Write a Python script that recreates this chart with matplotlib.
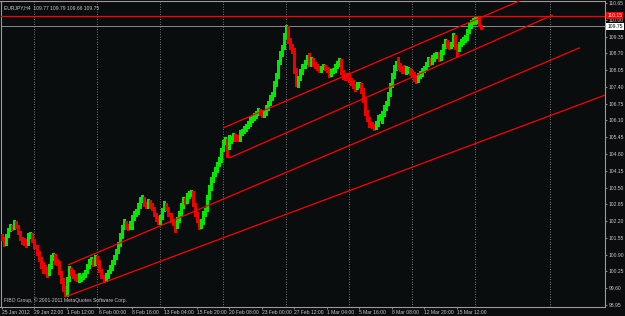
import matplotlib
matplotlib.use("Agg")
import matplotlib.pyplot as plt
import matplotlib.transforms as mtransforms

plt.rcParams["font.family"] = ["Liberation Sans", "DejaVu Sans"]

# ---- Data: EURJPY H4 candles ----
first_open = 101.62
closes = [
    101.55, 101.31, 101.62, 101.85, 102.01, 101.93, 102.16, 102.01, 101.78, 101.55,
    101.39, 101.35, 101.31, 101.62, 101.70, 101.47, 101.23, 101.00, 100.77, 100.54,
    100.31, 100.25, 100.15, 100.46, 100.77, 100.85, 100.70, 100.62, 100.23, 99.92,
    99.61, 99.38, 99.92, 100.31, 100.23, 100.07, 100.00, 99.95, 100.00, 100.07,
    100.15, 100.23, 100.46, 100.62, 100.69, 100.54, 100.77, 100.62, 100.31, 100.07,
    99.92, 100.07, 100.23, 100.38, 100.62, 100.77, 101.00, 101.31, 101.62, 101.93,
    102.16, 102.01, 101.93, 102.16, 102.32, 102.47, 102.55, 102.79, 103.02, 103.10,
    102.86, 102.79, 102.94, 102.86, 102.71, 102.47, 102.32, 102.16, 102.32, 102.63,
    102.86, 102.71, 102.47, 102.24, 102.16, 102.01, 102.24, 102.47, 102.79, 103.02,
    102.94, 103.17, 103.25, 103.33, 102.86, 102.47, 102.24, 102.01, 102.16, 102.47,
    102.63, 103.10, 103.48, 103.79, 104.02, 104.18, 104.41, 104.57, 104.95, 105.26,
    105.34, 105.03, 105.42, 105.46, 105.50, 105.42, 105.38, 105.57, 105.65, 105.81,
    105.88, 105.96, 106.12, 106.19, 106.27, 106.35, 106.50, 106.43, 106.35, 106.43,
    106.58, 106.74, 106.97, 107.12, 107.51, 107.82, 108.36, 108.67, 108.91, 109.37,
    109.68, 109.22, 108.98, 108.83, 108.05, 107.59, 107.74, 107.98, 108.21, 108.36,
    108.52, 108.29, 108.44, 108.29, 108.21, 108.13, 108.05, 108.13, 108.21, 108.13,
    108.05, 107.90, 107.98, 108.05, 108.21, 108.29, 108.44, 107.98, 107.82, 107.74,
    107.70, 107.67, 107.59, 107.43, 107.36, 107.45, 107.51, 107.28, 106.89, 106.43,
    106.19, 105.96, 105.88, 105.80, 105.96, 106.19, 106.27, 106.35, 106.58, 106.74,
    107.12, 107.43, 107.82, 108.13, 108.29, 108.21, 108.13, 108.05, 108.00, 108.05,
    108.10, 107.98, 107.90, 107.74, 107.67, 107.82, 107.90, 108.05, 108.13, 108.29,
    108.44, 108.36, 108.52, 108.60, 108.67, 108.52, 108.75, 108.98, 109.14, 109.06,
    108.98, 109.06, 109.37, 108.98, 108.83, 109.06, 109.14, 109.22, 109.29, 109.53,
    109.76, 109.91, 109.99, 110.03, 110.07, 109.77, 109.75,
]
highs = [
    101.70, 101.58, 101.70, 101.92, 102.10, 102.06, 102.25, 102.20, 102.05, 101.82,
    101.60, 101.55, 101.50, 101.75, 101.78, 101.75, 101.52, 101.28, 101.05, 100.82,
    100.60, 100.48, 100.42, 100.55, 100.90, 100.95, 100.92, 100.75, 100.66, 100.28,
    99.98, 99.68, 100.02, 100.45, 100.38, 100.30, 100.15, 100.15, 100.18, 100.10,
    100.18, 100.32, 100.55, 100.72, 100.80, 100.75, 100.88, 100.85, 100.68, 100.36,
    100.12, 100.18, 100.32, 100.48, 100.70, 100.88, 101.10, 101.40, 101.72, 102.05,
    102.30, 102.22, 102.10, 102.22, 102.45, 102.58, 102.65, 102.90, 103.12, 103.20,
    103.15, 102.95, 103.06, 103.00, 102.92, 102.76, 102.52, 102.38, 102.42, 102.72,
    102.98, 102.90, 102.76, 102.52, 102.30, 102.22, 102.35, 102.58, 102.90, 103.12,
    103.10, 103.28, 103.35, 103.42, 103.38, 102.92, 102.55, 102.30, 102.28, 102.58,
    102.72, 103.20, 103.58, 103.90, 104.12, 104.28, 104.50, 104.68, 105.05, 105.36,
    105.44, 105.38, 105.52, 105.50, 105.60, 105.58, 105.52, 105.72, 105.75, 105.88,
    105.98, 106.06, 106.22, 106.30, 106.38, 106.45, 106.60, 106.55, 106.52, 106.50,
    106.68, 106.84, 107.08, 107.22, 107.62, 107.92, 108.46, 108.78, 109.02, 109.48,
    109.80, 109.76, 109.28, 109.05, 108.90, 108.12, 107.82, 108.08, 108.30, 108.46,
    108.65, 108.70, 108.55, 108.50, 108.35, 108.28, 108.20, 108.22, 108.28, 108.26,
    108.18, 108.12, 108.08, 108.14, 108.30, 108.40, 108.52, 108.48, 108.05, 107.90,
    107.92, 107.88, 107.75, 107.66, 107.50, 107.60, 107.58, 107.55, 107.35, 106.95,
    106.50, 106.25, 106.05, 105.95, 106.06, 106.30, 106.35, 106.45, 106.68, 106.84,
    107.22, 107.54, 107.92, 108.24, 108.40, 108.55, 108.32, 108.20, 108.24, 108.20,
    108.16, 108.12, 108.06, 107.96, 107.84, 107.92, 108.00, 108.14, 108.22, 108.38,
    108.54, 108.52, 108.62, 108.70, 108.76, 108.74, 108.84, 109.08, 109.24, 109.22,
    109.14, 109.15, 109.47, 109.40, 109.05, 109.15, 109.24, 109.32, 109.40, 109.64,
    109.86, 110.00, 110.08, 110.11, 110.11, 110.10, 109.79,
]
lows = [
    101.45, 101.22, 101.28, 101.58, 101.80, 101.85, 101.90, 101.95, 101.70, 101.45,
    101.30, 101.28, 101.20, 101.28, 101.55, 101.40, 101.15, 100.90, 100.65, 100.40,
    100.20, 100.18, 100.05, 100.10, 100.40, 100.70, 100.55, 100.50, 100.15, 99.80,
    99.50, 99.28, 99.30, 99.88, 100.12, 99.98, 99.90, 99.88, 99.85, 99.86,
    99.95, 100.02, 100.18, 100.40, 100.55, 100.45, 100.50, 100.52, 100.22, 99.98,
    99.84, 99.88, 100.00, 100.18, 100.32, 100.55, 100.72, 100.95, 101.25, 101.55,
    101.88, 101.90, 101.85, 101.88, 101.88, 102.25, 102.40, 102.48, 102.72, 102.95,
    102.78, 102.72, 102.70, 102.72, 102.62, 102.38, 102.22, 102.08, 102.10, 102.28,
    102.58, 102.62, 102.40, 102.15, 102.05, 101.78, 101.95, 102.18, 102.42, 102.72,
    102.85, 102.90, 103.10, 103.18, 102.78, 102.38, 102.15, 101.90, 101.95, 102.10,
    102.40, 102.58, 103.05, 103.42, 103.72, 103.95, 104.12, 104.35, 104.50, 104.90,
    105.18, 104.68, 104.98, 105.22, 105.30, 105.32, 105.30, 105.32, 105.52, 105.62,
    105.68, 105.80, 105.90, 106.05, 106.12, 106.20, 106.30, 106.30, 106.22, 106.25,
    106.30, 106.50, 106.68, 106.90, 107.05, 107.45, 107.75, 108.30, 108.60, 108.85,
    109.30, 109.10, 108.88, 108.70, 107.95, 107.45, 107.40, 107.65, 107.90, 108.12,
    108.28, 108.20, 108.22, 108.20, 108.12, 108.05, 107.98, 107.98, 108.08, 108.05,
    107.98, 107.80, 107.82, 107.92, 107.98, 108.12, 108.22, 107.88, 107.72, 107.65,
    107.66, 107.58, 107.48, 107.35, 107.25, 107.30, 107.40, 107.18, 106.80, 106.32,
    106.08, 105.85, 105.80, 105.73, 105.76, 105.88, 106.10, 106.00, 106.28, 106.50,
    106.68, 107.05, 107.38, 107.76, 108.05, 108.10, 108.02, 107.95, 107.95, 107.88,
    107.92, 107.86, 107.78, 107.64, 107.56, 107.60, 107.74, 107.84, 107.98, 108.06,
    108.22, 108.26, 108.30, 108.42, 108.50, 108.40, 108.46, 108.68, 108.90, 108.96,
    108.88, 108.92, 109.00, 108.86, 108.60, 108.78, 108.98, 109.05, 109.12, 109.22,
    109.48, 109.68, 109.82, 109.82, 109.86, 109.74, 109.66,
]

# time labels every 16 bars
time_labels = ["25 Jan 2012", "29 Jan 22:00", "1 Feb 12:00", "6 Feb 00:00", "8 Feb 16:00",
               "13 Feb 04:00", "15 Feb 20:00", "20 Feb 08:00", "23 Feb 00:00", "27 Feb 12:00",
               "1 Mar 04:00", "5 Mar 16:00", "8 Mar 08:00", "12 Mar 20:00", "15 Mar 12:00"]
price_ticks = [110.65, 110.00, 109.35, 108.70, 108.05, 107.40, 106.75, 106.10, 105.45, 104.80,
               104.15, 103.50, 102.85, 102.20, 101.55, 100.90, 100.25, 99.60, 98.95]
grid_bars = [16, 47, 78, 109, 140, 171, 202, 233, 270]

# trend lines (bar1, price1, bar2, price2)
trend_lines = [
    (108.9, 105.81, 297.0, 112.15),
    (111.8, 104.64, 271.4, 110.19),
    (32.5, 100.50, 284.7, 108.92),
    (31.0, 99.26, 297.0, 107.08),
]
hline_level = 110.15
bid_level = 109.75

# ---- Figure ----
BG = "#0a0d0d"
BULL = "#00e800"
BEAR = "#ee0000"
TXT = "#c8c8c8"
FS = 3.6

fig = plt.figure(figsize=(6.25, 3.16), dpi=100, facecolor=BG)
ax = fig.add_axes([0.5 / 625, 9.5 / 316, 604.5 / 625, 305.5 / 316], facecolor=BG)

# grid
for g in grid_bars:
    ax.axvline(g, color="#9a9a9a", lw=0.6, ls=(0, (1, 2)), zorder=1)

# candles (crisp, terminal style)
opens = [first_open] + closes[:-1]
idx = list(range(len(closes)))
cols = [BULL if c >= o else BEAR for o, c in zip(opens, closes)]
ax.vlines(idx, lows, highs, colors=cols, lw=0.75, zorder=3, antialiased=False)
bottoms = [min(o, c) for o, c in zip(opens, closes)]
heights = [max(abs(c - o), 0.02) for o, c in zip(opens, closes)]
ax.bar(idx, heights, bottom=bottoms, width=0.75, color=cols, lw=0, zorder=3,
       antialiased=False)

# price lines
ax.axhline(bid_level, color="#8a8a8a", lw=0.7, zorder=2)
ax.axhline(hline_level, color="#ff0000", lw=0.9, zorder=4)
for x1, y1, x2, y2 in trend_lines:
    ax.plot([x1, x2], [y1, y2], color="#ff0000", lw=0.9, zorder=4, solid_capstyle="butt")

ax.set_xlim(-0.74, 297.0)
ax.set_ylim(98.891, 110.727)

# axes styling
for s in ax.spines.values():
    s.set_color("#9a9a9a")
    s.set_linewidth(0.8)

ax.yaxis.tick_right()
ax.set_yticks(price_ticks)
ax.set_yticklabels([f"{p:.2f}" for p in price_ticks])
ax.tick_params(axis="y", colors="#9a9a9a", labelcolor=TXT, labelsize=FS,
               length=1.5, width=0.6, pad=1.2)

ax.set_xticks([16 * i for i in range(len(time_labels))])
ax.set_xticklabels(time_labels)
for lab in ax.get_xticklabels():
    lab.set_horizontalalignment("left")
ax.tick_params(axis="x", colors="#9a9a9a", labelcolor=TXT, labelsize=FS,
               length=1.5, width=0.6, pad=0.8)

# right side price tags
tr = mtransforms.blended_transform_factory(ax.transAxes, ax.transData)
ax.text(1.004, hline_level, f"{hline_level:.2f}", transform=tr, fontsize=FS, color="white",
        va="center", ha="left", bbox=dict(boxstyle="square,pad=0.2", fc="#ff0000", ec="none"))
ax.text(1.004, bid_level, f"{bid_level:.2f}", transform=tr, fontsize=FS, color="black",
        va="center", ha="left", bbox=dict(boxstyle="square,pad=0.2", fc="white", ec="none"))

# texts
ax.text(0.005, 0.986, "EURJPY,H4  109.77 109.79 109.66 109.75", transform=ax.transAxes,
        fontsize=FS, color=TXT, va="top", ha="left")
ax.text(0.005, 0.012, "FIBO Group, \u00a9 2001-2011 MetaQuotes Software Corp.", transform=ax.transAxes,
        fontsize=FS, color=TXT, va="bottom", ha="left")

fig.savefig("out.png", dpi=100, facecolor=BG)
